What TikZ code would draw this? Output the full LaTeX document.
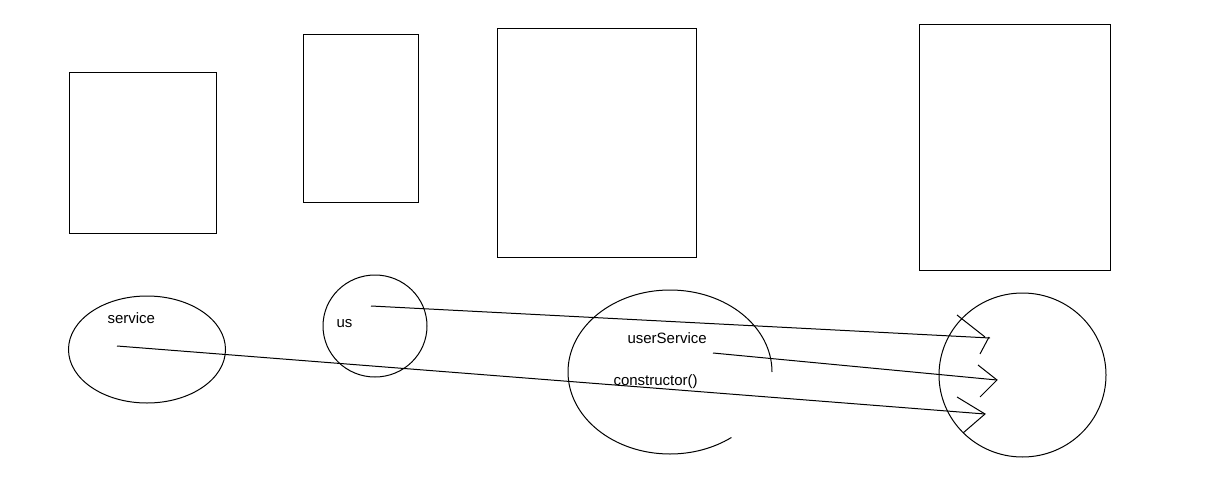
\documentclass[tikz,border=0pt]{standalone}
\usepackage{fontspec}
\setmainfont{Liberation Sans}
\usetikzlibrary{shapes.geometric}
\begin{document}
\begin{tikzpicture}[x=1pt,y=-1pt,line width=1pt,
  box/.style={draw,minimum width=#1},
  lbl/.style={inner sep=0pt,font=\fontsize{15}{18}\selectfont},
  oval/.style={draw,ellipse,inner sep=0pt}]
\useasboundingbox[fill=white] (0,0) rectangle (1214,476);
% rectangles
\draw (69,73) rectangle (216,233);
\draw (303,35) rectangle (418,202);
\draw (497,29) rectangle (696,257);
\draw (919,25) rectangle (1110,270);
% ovals
\node[oval,minimum width=157pt,minimum height=107pt] (svc) at (147,349.5) {};
\node[oval,minimum width=104pt,minimum height=102pt] (us) at (375,326) {};
\node[oval,minimum width=167pt,minimum height=164pt] (tgt) at (1022.5,375) {};
\draw (772,372) arc[start angle=0,end angle=-307,x radius=102,y radius=82];
% labels
\node[lbl,anchor=west] (tsvc) at (107,318) {service};
\node[lbl,anchor=west] (tus) at (336,324) {us};
\node[lbl,anchor=west] (tusr) at (627,338) {userService};
\node[lbl,anchor=west] (tctor) at (613,382) {constructor()};
% line endpoints
\coordinate (a1) at (371,306);
\coordinate (b1) at (990,338);
\coordinate (a2) at (713,353);
\coordinate (b2) at (997,380);
\coordinate (a3) at (117,346);
\coordinate (b3) at (985,414);
\draw (a1) -- (b1);
\draw (a2) -- (b2);
\draw (a3) -- (b3);
% hand-drawn arrowheads
\draw (957,315) -- (985,337);
\draw (989,337) -- (980,354);
\draw (978,365) -- (b2) -- (980,397);
\draw (957,397) -- (b3) -- (963,433);
\end{tikzpicture}
\end{document}
